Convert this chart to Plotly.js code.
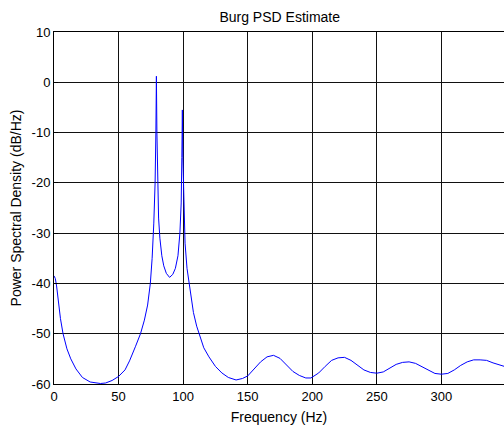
<!DOCTYPE html>
<html>
<head>
<meta charset="utf-8">
<script src="https://cdn.plot.ly/plotly-3.0.1.min.js"></script>
<style>html,body{margin:0;padding:0;background:#fff;}</style>
</head>
<body>
<div id="chart" style="width:504px;height:425px;"></div>
<script>
const freqHz = [0, 1, 2, 3.5, 5, 7, 10, 13, 17, 22, 28, 36, 40, 45, 50, 55, 58.5, 63, 67, 70, 72.5, 74.6, 76, 77.3, 78.3, 78.9, 79.3, 79.7, 80.3, 81, 82, 83.5, 85, 87, 89.5, 92, 94, 96, 97.5, 98.5, 99.0, 99.4, 99.8, 100.5, 101.5, 103, 105, 108, 110.5, 113, 116, 120, 125, 130, 135, 141, 146, 150, 155, 160, 165, 170, 175, 180, 185, 190, 195, 199, 205, 210, 215, 220, 225, 230, 235, 240, 245, 250, 255, 260, 265, 270, 275, 280, 285, 290, 295, 300, 305, 310, 315, 320, 325, 330, 335, 340, 345, 350];
const psdDb = [-38.5, -39, -40.5, -44, -47, -50, -53, -55, -57, -58.7, -59.6, -59.9, -59.8, -59.3, -58.5, -57.2, -55.4, -52.6, -50, -47.3, -44.3, -40, -35, -28, -20, -10, 1.2, -10, -20, -27, -31, -34.5, -36.5, -38, -38.8, -38.2, -37, -34.5, -30, -24, -15, -5.5, -15, -25, -32, -37, -40.6, -45.8, -48.5, -50.5, -52.8, -54.6, -56.5, -57.8, -58.7, -59.2, -58.9, -58.4, -57, -55.6, -54.6, -54.3, -54.9, -56.2, -57.5, -58.3, -58.8, -58.8, -57.8, -56.5, -55.3, -54.8, -54.7, -55.3, -56.3, -57.2, -57.7, -57.85, -57.6, -56.8, -56.1, -55.7, -55.6, -55.9, -56.6, -57.3, -57.9, -58.05, -57.9, -57.2, -56.3, -55.6, -55.2, -55.2, -55.3, -55.8, -56.2, -56.6];
const xTicks = [0, 50, 100, 150, 200, 250, 300];
const yTicks = [10, 0, -10, -20, -30, -40, -50, -60];

const trace = {
  x: freqHz, y: psdDb, type: 'scatter', mode: 'lines',
  line: {color: '#0000ff', width: 1}, hoverinfo: 'none'
};
const fontFam = 'Arial, "Liberation Sans", Helvetica, sans-serif';
const layout = {
  width: 504, height: 425,
  margin: {l: 54, r: 0, t: 32, b: 41, pad: 0},
  paper_bgcolor: '#fff', plot_bgcolor: '#fff',
  showlegend: false,
  font: {family: fontFam, color: '#000', size: 13},
  title: {text: 'Burg PSD Estimate', font: {size: 14, family: fontFam, color: '#000'}, x: 0.555, xanchor: 'center', y: 0.96, yanchor: 'middle'},
  xaxis: {
    range: [0, 348.5], tickvals: xTicks, ticktext: xTicks.map(String),
    showgrid: true, gridcolor: '#111', gridwidth: 1,
    showline: true, linecolor: '#000', linewidth: 1, mirror: true,
    ticks: 'inside', ticklen: 4, tickcolor: '#000',
    zeroline: false, tickfont: {size: 13, family: fontFam},
    title: {text: 'Frequency (Hz)', font: {size: 14, family: fontFam}, standoff: 13}
  },
  yaxis: {
    range: [-60, 10], tickvals: yTicks, ticktext: yTicks.map(String),
    showgrid: true, gridcolor: '#111', gridwidth: 1,
    showline: true, linecolor: '#000', linewidth: 1, mirror: true,
    ticks: 'inside', ticklen: 4, tickcolor: '#000',
    zeroline: false, tickfont: {size: 13, family: fontFam},
    title: {text: 'Power Spectral Density (dB/Hz)', font: {size: 14, family: fontFam}, standoff: 6}
  }
};
Plotly.newPlot('chart', [trace], layout, {displayModeBar: false, staticPlot: true});
</script>
</body>
</html>
